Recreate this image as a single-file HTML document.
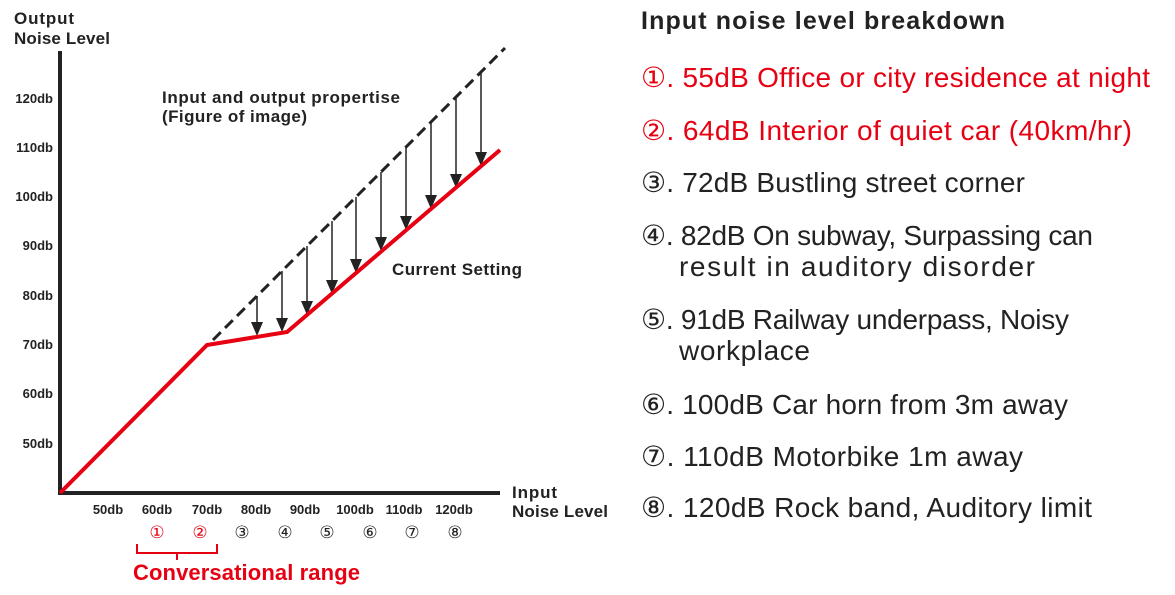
<!DOCTYPE html>
<html><head><meta charset="utf-8"><style>
body{margin:0;width:1175px;height:595px;background:#fff;overflow:hidden}
</style></head><body>
<svg width="1175" height="595" style="position:absolute;left:0;top:0" font-family="Liberation Sans, DejaVu Sans, sans-serif">
<text x="14" y="24" font-size="17" font-weight="bold" fill="#222" textLength="60">Output</text>
<text x="14" y="44" font-size="17" font-weight="bold" fill="#222" textLength="96">Noise Level</text>
<line x1="60" y1="51" x2="60" y2="495" stroke="#222" stroke-width="4"/>
<line x1="58" y1="493" x2="500" y2="493" stroke="#222" stroke-width="4"/>
<g font-size="13" font-weight="bold" fill="#222" text-anchor="end">
<text x="53" y="103">120db</text><text x="53" y="152">110db</text><text x="53" y="201">100db</text><text x="53" y="250">90db</text><text x="53" y="300">80db</text><text x="53" y="349">70db</text><text x="53" y="398">60db</text><text x="53" y="448">50db</text>
</g>
<g font-size="13" font-weight="bold" fill="#222" text-anchor="middle">
<text x="108" y="514">50db</text><text x="157" y="514">60db</text><text x="207" y="514">70db</text><text x="256" y="514">80db</text><text x="305" y="514">90db</text><text x="355" y="514">100db</text><text x="404" y="514">110db</text><text x="454" y="514">120db</text>
</g>
<g font-size="17" text-anchor="middle" fill="#222">
<text x="157" y="538" fill="#e60012">①</text><text x="200" y="538" fill="#e60012">②</text><text x="242" y="538">③</text><text x="285" y="538">④</text><text x="327" y="538">⑤</text><text x="370" y="538">⑥</text><text x="412" y="538">⑦</text><text x="455" y="538">⑧</text>
</g>
<path d="M137,544 V553 H217 V544 M177,553 V560" stroke="#e60012" stroke-width="2" fill="none"/>
<text x="133" y="580" font-size="22" font-weight="bold" fill="#e60012" textLength="227">Conversational range</text>
<text x="512" y="498" font-size="17" font-weight="bold" fill="#222" textLength="45">Input</text>
<text x="512" y="517" font-size="17" font-weight="bold" fill="#222" textLength="96">Noise Level</text>
<text x="162" y="103" font-size="17" font-weight="bold" fill="#222" textLength="238">Input and output propertise</text>
<text x="162" y="122" font-size="17" font-weight="bold" fill="#222" textLength="145">(Figure of image)</text>
<text x="392" y="275" font-size="17" font-weight="bold" fill="#222" textLength="130">Current Setting</text>
<line x1="213" y1="340" x2="505" y2="48" stroke="#222" stroke-width="3" stroke-dasharray="11,6"/>
<g stroke="#222" stroke-width="1.5">
<line x1="257" y1="296" x2="257" y2="326"/>
<line x1="282" y1="271" x2="282" y2="323"/>
<line x1="307" y1="246" x2="307" y2="306"/>
<line x1="332" y1="221" x2="332" y2="285"/>
<line x1="356" y1="197" x2="356" y2="264"/>
<line x1="381" y1="172" x2="381" y2="242"/>
<line x1="406" y1="147" x2="406" y2="221"/>
<line x1="431" y1="122" x2="431" y2="200"/>
<line x1="456" y1="97" x2="456" y2="179"/>
<line x1="481" y1="72" x2="481" y2="157"/>
</g>
<g fill="#222">
<path d="M251,322h12l-6,14z"/><path d="M276,318h12l-6,14z"/><path d="M301,301h12l-6,14z"/><path d="M326,280h12l-6,14z"/><path d="M350,259h12l-6,14z"/><path d="M375,237h12l-6,14z"/><path d="M400,216h12l-6,14z"/><path d="M425,195h12l-6,14z"/><path d="M450,174h12l-6,14z"/><path d="M475,152h12l-6,14z"/>
</g>
<polyline points="60,493 207,345 287,332 500,150" fill="none" stroke="#e60012" stroke-width="4"/>
<text x="641" y="29" font-size="25" font-weight="bold" fill="#222" textLength="364">Input noise level breakdown</text>
<g font-size="28" fill="#222">
<text x="641" y="87" fill="#e60012" textLength="509">①. 55dB Office or city residence at night</text>
<text x="641" y="140" fill="#e60012" textLength="491">②. 64dB Interior of quiet car (40km/hr)</text>
<text x="641" y="192" textLength="384">③. 72dB Bustling street corner</text>
<text x="641" y="245" textLength="452">④. 82dB On subway, Surpassing can</text>
<text x="679" y="276" textLength="356">result in auditory disorder</text>
<text x="641" y="329" textLength="428">⑤. 91dB Railway underpass, Noisy</text>
<text x="679" y="360" textLength="131">workplace</text>
<text x="641" y="414" textLength="427">⑥. 100dB Car horn from 3m away</text>
<text x="641" y="466" textLength="382">⑦. 110dB Motorbike 1m away</text>
<text x="641" y="517" textLength="451">⑧. 120dB Rock band, Auditory limit</text>
</g>
</svg>
</body></html>
